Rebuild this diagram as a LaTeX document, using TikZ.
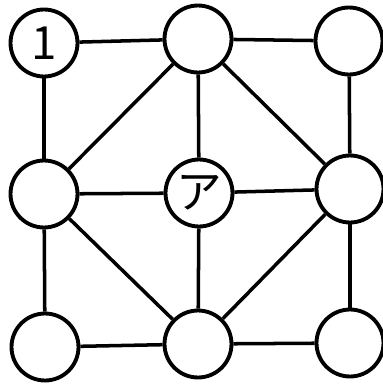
\documentclass[tikz,border=0pt]{standalone}
\usepackage{fontspec}
\newfontfamily\jpfont{Noto Sans CJK JP}
\usetikzlibrary{positioning}

\begin{document}
\begin{tikzpicture}[x=0.02cm, y=-0.02cm,
    every node/.style={font=\jpfont\fontsize{26}{28}\selectfont},
    cell/.style={circle, draw, line width=2.2pt, minimum size=1.34cm, inner sep=0pt},
    link/.style={line width=2pt}]
  \useasboundingbox (0,0) rectangle (382,385);
  % circles
  \node[cell] (tl) at (44,43) {1};
  \node[cell] (tm) at (198,39) {};
  \node[cell] (tr) at (349,41) {};
  \node[cell] (ml) at (44,194) {};
  \node[cell] (mm) at (199,193) {ア};
  \node[cell] (mr) at (350,189) {};
  \node[cell] (bl) at (45,347) {};
  \node[cell] (bm) at (198,344) {};
  \node[cell] (br) at (350,343) {};
  % connectors
  \foreach \a/\b in {tl/tm, tm/tr, ml/mm, mm/mr, bl/bm, bm/br,
                     tl/ml, ml/bl, tm/mm, mm/bm, tr/mr, mr/br,
                     tm/ml, tm/mr, ml/bm, mr/bm}
    \draw[link] (\a) -- (\b);
\end{tikzpicture}
\end{document}
